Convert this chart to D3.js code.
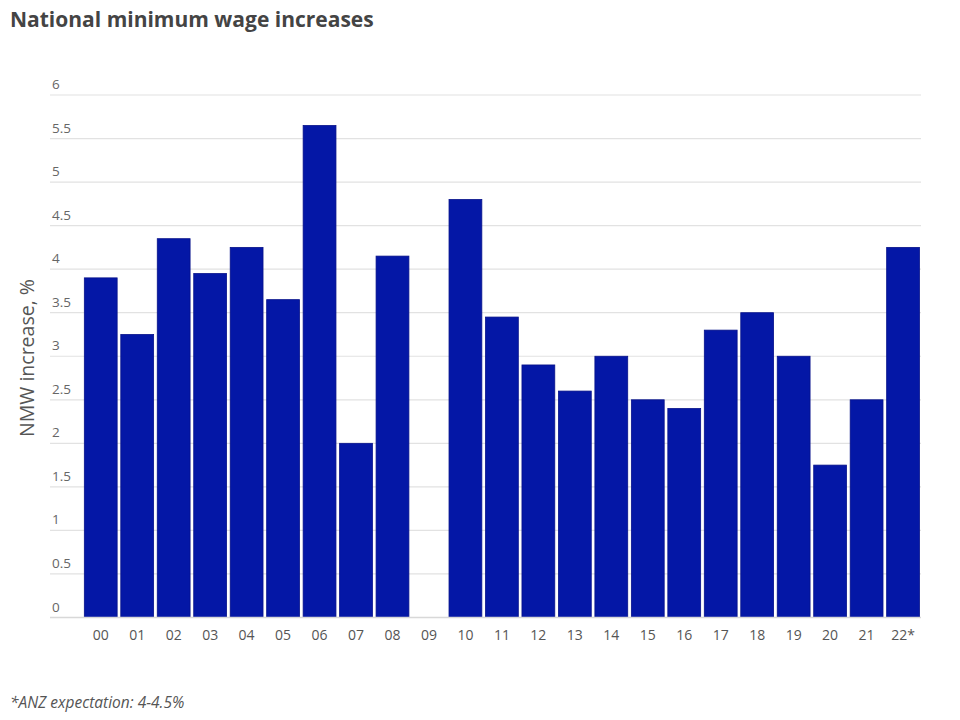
<!DOCTYPE html>
<html><head><meta charset="utf-8">
<script src="https://cdn.jsdelivr.net/npm/d3@7"></script>
<style>body{margin:0;background:#fff;} svg{display:block;font-family:"Open Sans",sans-serif;}</style>
</head><body>
<script>
const categories = ["00","01","02","03","04","05","06","07","08","09","10","11","12","13","14","15","16","17","18","19","20","21","22*"];
const values = [3.9,3.25,4.35,3.95,4.25,3.65,5.65,2.0,4.15,null,4.8,3.45,2.9,2.6,3.0,2.5,2.4,3.3,3.5,3.0,1.75,2.5,4.25];
const yTicks = [0,0.5,1,1.5,2,2.5,3,3.5,4,4.5,5,5.5,6];
const title = "National minimum wage increases";
const yTitle = "NMW increase, %";
const note = "*ANZ expectation: 4-4.5%";

const W = 960, H = 720;
const svg = d3.select("body").append("svg").attr("width", W).attr("height", H);
const x = d3.scaleBand().domain(categories).range([82.5, 921.3]).paddingInner(0.1).paddingOuter(0.05);
const y = d3.scaleLinear().domain([0, 6]).range([617.5, 95]);

// gridlines
svg.append("g").selectAll("line").data(yTicks.filter(d => d > 0)).join("line")
  .attr("x1", 50).attr("x2", 921).attr("y1", d => y(d)).attr("y2", d => y(d))
  .attr("stroke", "#e2e2e2").attr("stroke-width", 1.2);
// tick labels above gridlines
svg.append("g").selectAll("text").data(yTicks).join("text")
  .attr("x", 52).attr("y", d => y(d) - 6)
  .attr("font-size", 13.5).attr("fill", "#666").text(d => d);

// bars
svg.append("g").selectAll("rect").data(categories.map((c, i) => ({c, v: values[i]})).filter(d => d.v != null)).join("rect")
  .attr("x", d => x(d.c)).attr("width", x.bandwidth())
  .attr("y", d => y(d.v)).attr("height", d => y(0) - y(d.v))
  .attr("fill", "#0417a6").attr("stroke", "#07128a").attr("stroke-width", 0.8);

// baseline
svg.append("line").attr("x1", 50).attr("x2", 921).attr("y1", y(0)).attr("y2", y(0))
  .attr("stroke", "#d8d8d8").attr("stroke-width", 1.5);

// x axis labels
svg.append("g").selectAll("text").data(categories).join("text")
  .attr("x", d => x(d) + x.bandwidth() / 2).attr("y", 640)
  .attr("text-anchor", "middle").attr("font-size", 14).attr("fill", "#555").text(d => d);

// titles
svg.append("text").attr("x", 10).attr("y", 27).attr("font-size", 21).attr("font-weight", "bold")
  .attr("fill", "#444").text(title);
svg.append("text").attr("transform", "translate(34,358) rotate(-90)").attr("text-anchor", "middle")
  .attr("font-size", 19.5).attr("fill", "#555").text(yTitle);
svg.append("text").attr("x", 10).attr("y", 708).attr("font-size", 15.5).attr("font-style", "italic")
  .attr("fill", "#555").text(note);
</script>
</body></html>
